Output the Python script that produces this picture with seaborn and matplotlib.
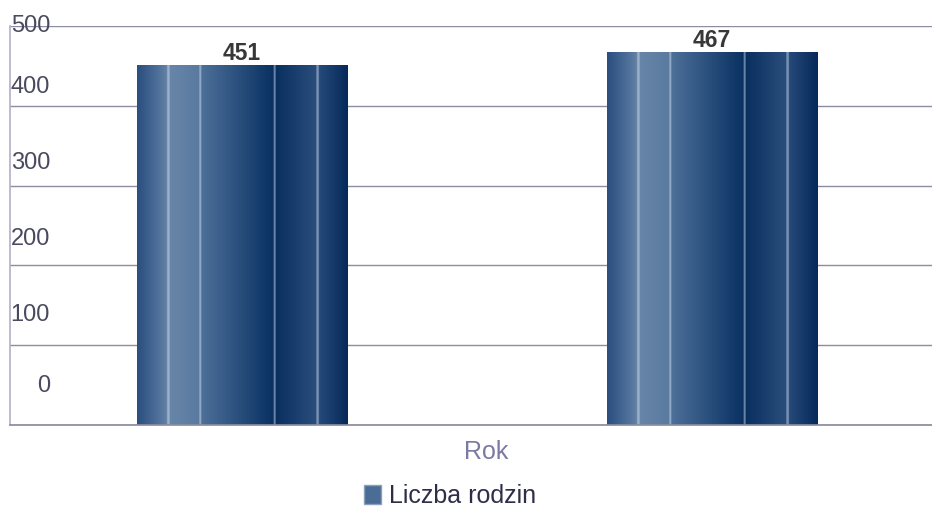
import numpy as np
import seaborn as sns
import matplotlib.pyplot as plt
import matplotlib.colors as mcolors
from matplotlib.patches import Patch

# ============================================================
# 1. Data
# ============================================================
okresy = ["okres 1", "okres 2"]
liczba_rodzin = [451, 467]
y_ticks = [0, 100, 200, 300, 400, 500]
tick_labels = ["0", "100", "200", "300", "400", "500"]
# y position (axes fraction) where the original puts each tick label
tick_label_y = [0.098, 0.276, 0.466, 0.657, 0.847, 1.0]

# ============================================================
# 2. Style
# ============================================================
sns.set_theme(style="white")
plt.rcParams["font.family"] = ["Liberation Sans", "DejaVu Sans"]

fig = plt.figure(figsize=(9.32, 5.07), dpi=100)
ax = fig.add_axes([10 / 932, 82 / 507, 922 / 932, 399 / 507])

sns.barplot(x=okresy, y=liczba_rodzin, width=0.447, ax=ax, color="#3e6490")

# gradient "pipe" look for the bars
stops = [(0.00, "#2a4e7e"), (0.10, "#4f709a"), (0.15, "#6886a8"),
         (0.29, "#5a7aa0"), (0.31, "#4c6f98"), (0.64, "#0a3263"),
         (0.66, "#0a3060"), (0.85, "#2a4e7c"), (0.87, "#244878"),
         (1.00, "#052a5a")]
pos = [s[0] for s in stops]
rgb = np.array([mcolors.to_rgb(s[1]) for s in stops])
cols = np.linspace(0, 1, 420)
img = np.stack([np.interp(cols, pos, rgb[:, i]) for i in range(3)], axis=1)
for sx in [0.148, 0.30, 0.652, 0.857]:
    m = np.abs(cols - sx) < 0.005
    img[m] = img[m] * 0.55 + np.array([0.85, 0.9, 0.97]) * 0.45
img = img[np.newaxis, :, :]

for p in ax.patches:
    p.set_facecolor("none")
    p.set_edgecolor("none")
    x0, w, h = p.get_x(), p.get_width(), p.get_height()
    im = ax.imshow(img, extent=[x0, x0 + w, 0, h], aspect="auto", zorder=2,
                   interpolation="bilinear")
    im.set_clip_path(p)

ax.bar_label(ax.containers[0], padding=0, fontsize=16.5, fontweight="bold",
             color="#383838")

ax.set_xlim(-0.494, 1.468)
ax.set_ylim(0, 500)
ax.set_yticks(y_ticks)
ax.set_yticklabels([])
ax.set_xticks([])
ax.tick_params(length=0)
ax.grid(axis="y", color="#8c8ca2", linewidth=1)
ax.set_axisbelow(True)

for side in ["top", "right"]:
    ax.spines[side].set_visible(False)
ax.spines["left"].set_color("#b4b4c8")
ax.spines["bottom"].set_color("#8c8ca2")

for lab, yy in zip(tick_labels, tick_label_y):
    ax.text(0.0434, yy, lab, transform=ax.transAxes, ha="right", va="center",
            fontsize=17, color="#4a4a5e")

ax.set_xlabel("Rok", fontsize=18, color="#7a7aa2")
ax.set_ylabel("")
ax.xaxis.set_label_coords(0.516, -0.038)

fig.legend(handles=[Patch(facecolor="#4a6c95", edgecolor="#8aa0bc")],
           labels=["Liczba rodzin"], loc="center",
           bbox_to_anchor=(450 / 932, 0.022), frameon=False, fontsize=18,
           labelcolor="#2e2e48", handlelength=0.7, handleheight=0.8,
           handletextpad=0.3)

plt.savefig("out.png", dpi=100)
